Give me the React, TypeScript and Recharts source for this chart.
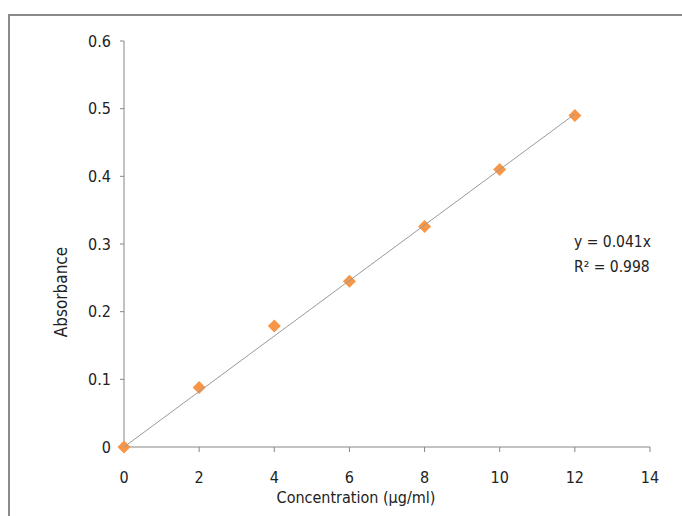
import { ScatterChart, Scatter, XAxis, YAxis, Label } from "recharts"

const concentration = [0, 2, 4, 6, 8, 10, 12]
const absorbance = [0, 0.088, 0.179, 0.245, 0.326, 0.41, 0.49]
const trendX = [0, 12]
const trendY = [0, 0.492]
const xTicks = [0, 2, 4, 6, 8, 10, 12, 14]
const yTicks = [0, 0.1, 0.2, 0.3, 0.4, 0.5, 0.6]

const points = concentration.map((x, i) => ({ x, y: absorbance[i] }))
const trend = trendX.map((x, i) => ({ x, y: trendY[i] }))

const font = "'DejaVu Sans Condensed', 'Liberation Sans Narrow', sans-serif"
const axisColor = "#868686"

const Diamond = (props: any) => {
  const { cx, cy } = props
  const r = 6.5
  return (
    <polygon
      points={`${cx},${cy - r} ${cx + r},${cy} ${cx},${cy + r} ${cx - r},${cy}`}
      fill="#f79646"
    />
  )
}

export default function App() {
  return (
    <div style={{ position: "absolute", left: 0, top: 0, width: 682, height: 516, overflow: "hidden", background: "#fff" }}>
      <div
        style={{
          position: "absolute",
          left: 8,
          top: 14,
          width: 720,
          height: 600,
          border: "2px solid #8a8a8a",
        }}
      />
      <ScatterChart
        width={682}
        height={516}
        margin={{ top: 41, right: 32, left: 0, bottom: 39 }}
        style={{ position: "absolute", left: 0, top: 0, fontFamily: font, fontStretch: "condensed" }}
      >
        <XAxis
          type="number"
          dataKey="x"
          domain={[0, 14]}
          ticks={xTicks}
          height={30}
          stroke={axisColor}
          tickSize={5}
          tickMargin={20}
          tick={{ fill: "#222", fontSize: 16 }}
        >
          <Label
            content={() => (
              <text x={356} y={503} textAnchor="middle" fill="#222" fontSize={16} fontFamily={font}>
                Concentration (µg/ml)
              </text>
            )}
          />
        </XAxis>
        <YAxis
          type="number"
          dataKey="y"
          domain={[0, 0.6]}
          ticks={yTicks}
          width={124}
          stroke={axisColor}
          tickSize={4}
          tickMargin={9}
          tick={{ fill: "#222", fontSize: 16 }}
        >
          <Label
            content={() => (
              <text
                x={67}
                y={292}
                textAnchor="middle"
                fill="#222"
                fontSize={17}
                fontFamily={font}
                transform="rotate(-90 67 292)"
              >
                Absorbance
              </text>
            )}
          />
        </YAxis>
        <Scatter data={points} shape={<Diamond />} isAnimationActive={false} />
        <Scatter
          data={trend}
          line={{ stroke: "#9a9a9a", strokeWidth: 1 }}
          shape={() => <g />}
          isAnimationActive={false}
        />
      </ScatterChart>
      <div
        style={{
          position: "absolute",
          left: 574,
          top: 230,
          fontFamily: font,
          fontStretch: "condensed",
          fontSize: 15.5,
          lineHeight: "25px",
          color: "#222",
        }}
      >
        <div>y = 0.041x</div>
        <div>R² = 0.998</div>
      </div>
    </div>
  )
}
